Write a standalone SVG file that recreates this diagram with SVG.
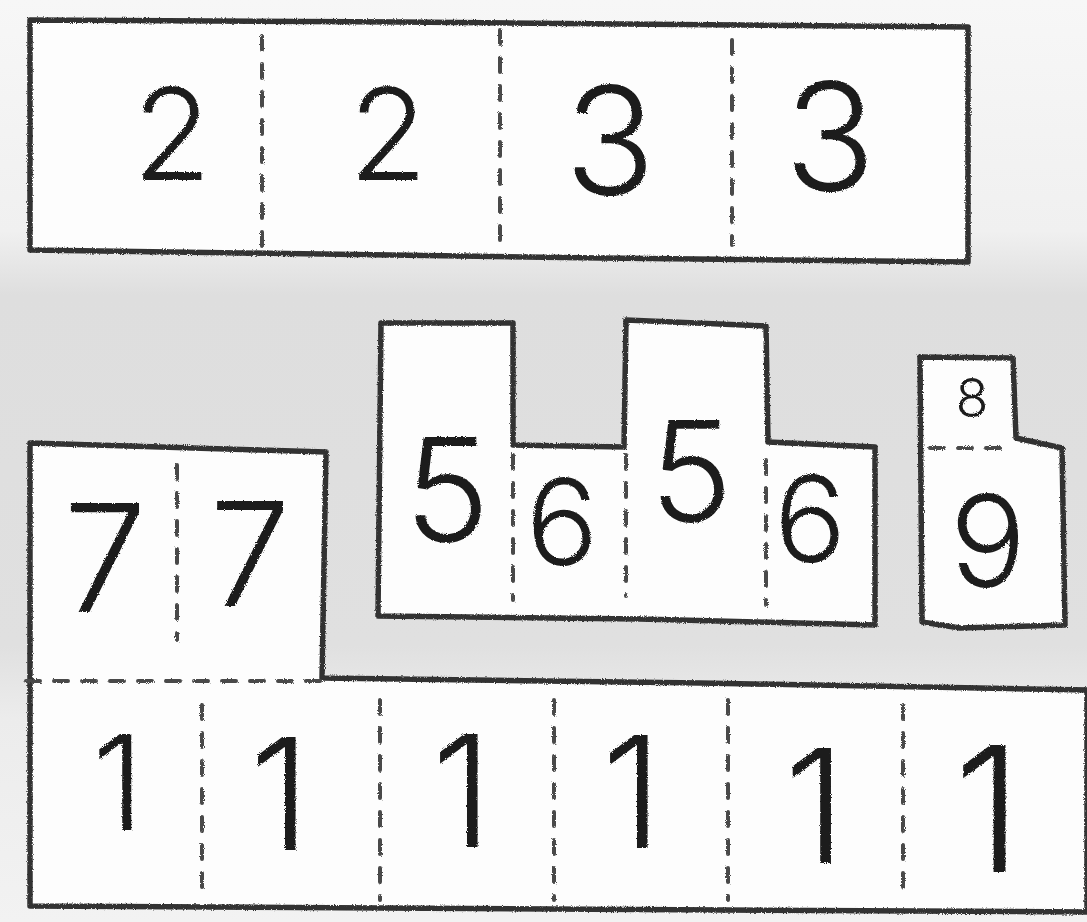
<svg xmlns="http://www.w3.org/2000/svg" width="1087" height="922" viewBox="0 0 1087 922">
<defs>
<style>
.wall{fill:#fdfdfd;stroke:#333;stroke-width:5.5;stroke-linejoin:round;stroke-linecap:round}
.dash{fill:none;stroke:#4a4a4a;stroke-width:4;stroke-dasharray:14 14;stroke-linecap:round}
.num{font-family:"Inter","Lato","DejaVu Sans",sans-serif;font-weight:300;fill:#1e1e1e;text-anchor:middle}
</style>
<filter id="pencil" x="-5%" y="-5%" width="110%" height="110%">
<feTurbulence type="fractalNoise" baseFrequency="0.9" numOctaves="2" seed="3" result="n"/>
<feDisplacementMap in="SourceGraphic" in2="n" scale="3"/>
</filter>
<linearGradient id="shade" x1="0" y1="0" x2="0" y2="1">
<stop offset="0" stop-color="#f7f7f7"/>
<stop offset="0.25" stop-color="#f0f0f0"/>
<stop offset="0.32" stop-color="#dedede"/>
<stop offset="0.7" stop-color="#e0e0e0"/>
<stop offset="0.78" stop-color="#ececec"/>
<stop offset="1" stop-color="#f2f2f2"/>
</linearGradient>
</defs>
<rect x="0" y="0" width="1087" height="922" fill="url(#shade)"/>

<g id="top-block" filter="url(#pencil)">
<path class="wall" d="M30,20 L400,22 L968,27 L968,262 L600,258 L30,250 Z"/>
<path class="dash" d="M262,36 L262,246 M500,30 L500,246 M732,40 L732,245"/>
<text class="num" x="172" y="180" font-size="128">2</text>
<text class="num" x="388" y="180" font-size="128">2</text>
<text class="num" x="610" y="195" font-size="150">3</text>
<text class="num" x="830" y="191" font-size="150">3</text>
</g>

<g id="bottom-block" filter="url(#pencil)">
<path class="wall" d="M30,443 L326,452 L322,678 L700,683 L1087,690 L1087,912 L30,906 Z"/>
<path class="dash" d="M26,681 L322,681"/>
<path class="dash" d="M177,465 L177,640"/>
<path class="dash" d="M202,705 L202,900 M380,700 L380,900 M554,700 L554,900 M728,700 L728,900 M903,705 L903,900"/>
<text class="num" x="105" y="612" font-size="150">7</text>
<text class="num" x="250" y="606" font-size="145">7</text>
<text class="num" x="118" y="830" font-size="132">1</text>
<text class="num" x="280" y="850" font-size="155">1</text>
<text class="num" x="462" y="847" font-size="155">1</text>
<text class="num" x="632" y="848" font-size="155">1</text>
<text class="num" x="815" y="863" font-size="158">1</text>
<text class="num" x="988" y="872" font-size="175">1</text>
</g>

<g id="middle-block" filter="url(#pencil)">
<path class="wall" d="M381,323 L513,323 L513,445 L624,447 L626,320 L766,326 L768,442 L875,447 L875,625 L640,619 L378,616 Z"/>
<path class="dash" d="M513,455 L513,600 M626,455 L626,596 M766,460 L766,605"/>
<text class="num" x="447" y="542" font-size="145">5</text>
<text class="num" x="562" y="565" font-size="120">6</text>
<text class="num" x="691" y="522" font-size="140">5</text>
<text class="num" x="810" y="562" font-size="120">6</text>
</g>

<g id="right-block" filter="url(#pencil)">
<path class="wall" d="M920,357 L1013,358 L1016,438 L1062,448 L1065,625 L960,628 L922,622 Z"/>
<path class="dash" d="M930,448 L1000,448" stroke-dasharray="16 10"/>
<text class="num" x="972" y="417" font-size="54">8</text>
<text class="num" x="988" y="587" font-size="127">9</text>
</g>
</svg>
